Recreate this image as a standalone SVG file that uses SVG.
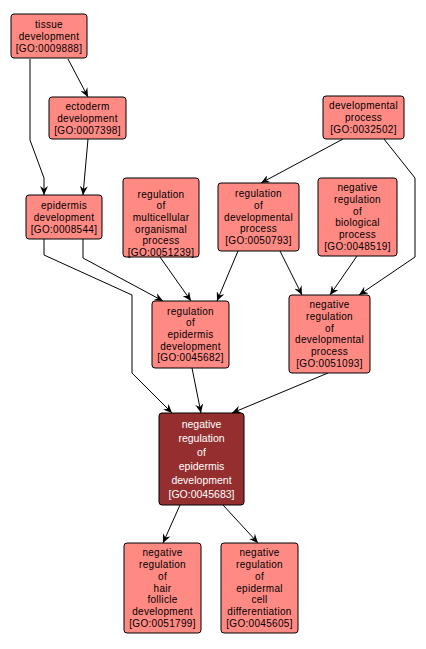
<svg xmlns="http://www.w3.org/2000/svg" width="426" height="649" viewBox="0 0 426 649">
<style>
.n rect{fill:#FF8A84;stroke:#000;stroke-width:1}
.n text{font-family:"Liberation Sans",Arial,sans-serif;font-size:10px;letter-spacing:0.3px;fill:#000;text-anchor:middle}
.d rect{fill:#952F2F;stroke:#000;stroke-width:1}
.d text{font-family:"Liberation Sans",Arial,sans-serif;font-size:10.5px;fill:#fff;text-anchor:middle}
.e{fill:none;stroke:#000;stroke-width:1;marker-end:url(#a)}
</style>
<defs>
<marker id="a" markerUnits="userSpaceOnUse" markerWidth="10" markerHeight="8" refX="9" refY="4" orient="auto" viewBox="0 0 10 8">
<path d="M0,0 L9,4 L0,8 L3,4 z" fill="#000"/>
</marker>
</defs>
<rect width="426" height="649" fill="#fff"/>
<g id="edges">
<polyline class="e" points="68,59 88,97"/>
<polyline class="e" points="30,59 30,140 44,178 44,195"/>
<polyline class="e" points="88,139 83,195"/>
<polyline class="e" points="44,239 44,255 132,295 132,373 172,413"/>
<polyline class="e" points="83,239 83,258 163,301"/>
<polyline class="e" points="160,257 191,301"/>
<polyline class="e" points="238,251 217,301"/>
<polyline class="e" points="280,251 302,295"/>
<polyline class="e" points="357,256 330,295"/>
<polyline class="e" points="343,139 261,183"/>
<polyline class="e" points="384,139 415,178 415,257 359,295"/>
<polyline class="e" points="192,368 201,413"/>
<polyline class="e" points="328,373 232,413"/>
<polyline class="e" points="180,505 163,543"/>
<polyline class="e" points="223,505 258,543"/>
</g>
<g id="GO0009888" class="n"><rect x="11" y="14" width="76" height="44" rx="3"/>
<text x="49"><tspan x="49" y="28">tissue</tspan><tspan x="49" y="40">development</tspan><tspan x="49" y="52">[GO:0009888]</tspan></text></g>
<g id="GO0007398" class="n"><rect x="49" y="97" width="77" height="42" rx="3"/>
<text><tspan x="87.5" y="110">ectoderm</tspan><tspan x="87.5" y="122">development</tspan><tspan x="87.5" y="134">[GO:0007398]</tspan></text></g>
<g id="GO0008544" class="n"><rect x="26" y="195" width="76" height="44" rx="3"/>
<text><tspan x="64" y="209">epidermis</tspan><tspan x="64" y="221">development</tspan><tspan x="64" y="233">[GO:0008544]</tspan></text></g>
<g id="GO0051239" class="n"><rect x="123" y="178" width="76" height="79" rx="3"/>
<text><tspan x="161" y="197.6">regulation</tspan><tspan x="161" y="209.3">of</tspan><tspan x="161" y="221">multicellular</tspan><tspan x="161" y="232.7">organismal</tspan><tspan x="161" y="244.4">process</tspan><tspan x="161" y="256.1">[GO:0051239]</tspan></text></g>
<g id="GO0032502" class="n"><rect x="323" y="96" width="81" height="43" rx="3"/>
<text><tspan x="363.5" y="109">developmental</tspan><tspan x="363.5" y="121">process</tspan><tspan x="363.5" y="133">[GO:0032502]</tspan></text></g>
<g id="GO0050793" class="n"><rect x="218" y="183" width="81" height="68" rx="3"/>
<text><tspan x="258.5" y="197.1">regulation</tspan><tspan x="258.5" y="208.8">of</tspan><tspan x="258.5" y="220.5">developmental</tspan><tspan x="258.5" y="232.2">process</tspan><tspan x="258.5" y="243.9">[GO:0050793]</tspan></text></g>
<g id="GO0048519" class="n"><rect x="318" y="178" width="79" height="78" rx="3"/>
<text><tspan x="357.5" y="191.3">negative</tspan><tspan x="357.5" y="203">regulation</tspan><tspan x="357.5" y="214.7">of</tspan><tspan x="357.5" y="226.4">biological</tspan><tspan x="357.5" y="238.1">process</tspan><tspan x="357.5" y="249.8">[GO:0048519]</tspan></text></g>
<g id="GO0045682" class="n"><rect x="152" y="301" width="77" height="67" rx="3"/>
<text><tspan x="190.5" y="314.6">regulation</tspan><tspan x="190.5" y="326.3">of</tspan><tspan x="190.5" y="338">epidermis</tspan><tspan x="190.5" y="349.7">development</tspan><tspan x="190.5" y="361.4">[GO:0045682]</tspan></text></g>
<g id="GO0051093" class="n"><rect x="289" y="295" width="81" height="78" rx="3"/>
<text><tspan x="329.5" y="308.3">negative</tspan><tspan x="329.5" y="320">regulation</tspan><tspan x="329.5" y="331.7">of</tspan><tspan x="329.5" y="343.4">developmental</tspan><tspan x="329.5" y="355.1">process</tspan><tspan x="329.5" y="366.8">[GO:0051093]</tspan></text></g>
<g id="GO0045683" class="d"><rect x="159" y="413" width="85" height="92" rx="3"/>
<text><tspan x="201.5" y="427.8">negative</tspan><tspan x="201.5" y="441.8">regulation</tspan><tspan x="201.5" y="455.8">of</tspan><tspan x="201.5" y="469.8">epidermis</tspan><tspan x="201.5" y="483.8">development</tspan><tspan x="201.5" y="497.8">[GO:0045683]</tspan></text></g>
<g id="GO0051799" class="n"><rect x="124" y="543" width="77" height="90" rx="3"/>
<text><tspan x="162.5" y="556.4">negative</tspan><tspan x="162.5" y="568.1">regulation</tspan><tspan x="162.5" y="579.8">of</tspan><tspan x="162.5" y="591.5">hair</tspan><tspan x="162.5" y="603.2">follicle</tspan><tspan x="162.5" y="614.9">development</tspan><tspan x="162.5" y="626.6">[GO:0051799]</tspan></text></g>
<g id="GO0045605" class="n"><rect x="221" y="543" width="77" height="90" rx="3"/>
<text><tspan x="259.5" y="556.4">negative</tspan><tspan x="259.5" y="568.1">regulation</tspan><tspan x="259.5" y="579.8">of</tspan><tspan x="259.5" y="591.5">epidermal</tspan><tspan x="259.5" y="603.2">cell</tspan><tspan x="259.5" y="614.9">differentiation</tspan><tspan x="259.5" y="626.6">[GO:0045605]</tspan></text></g>
</svg>
